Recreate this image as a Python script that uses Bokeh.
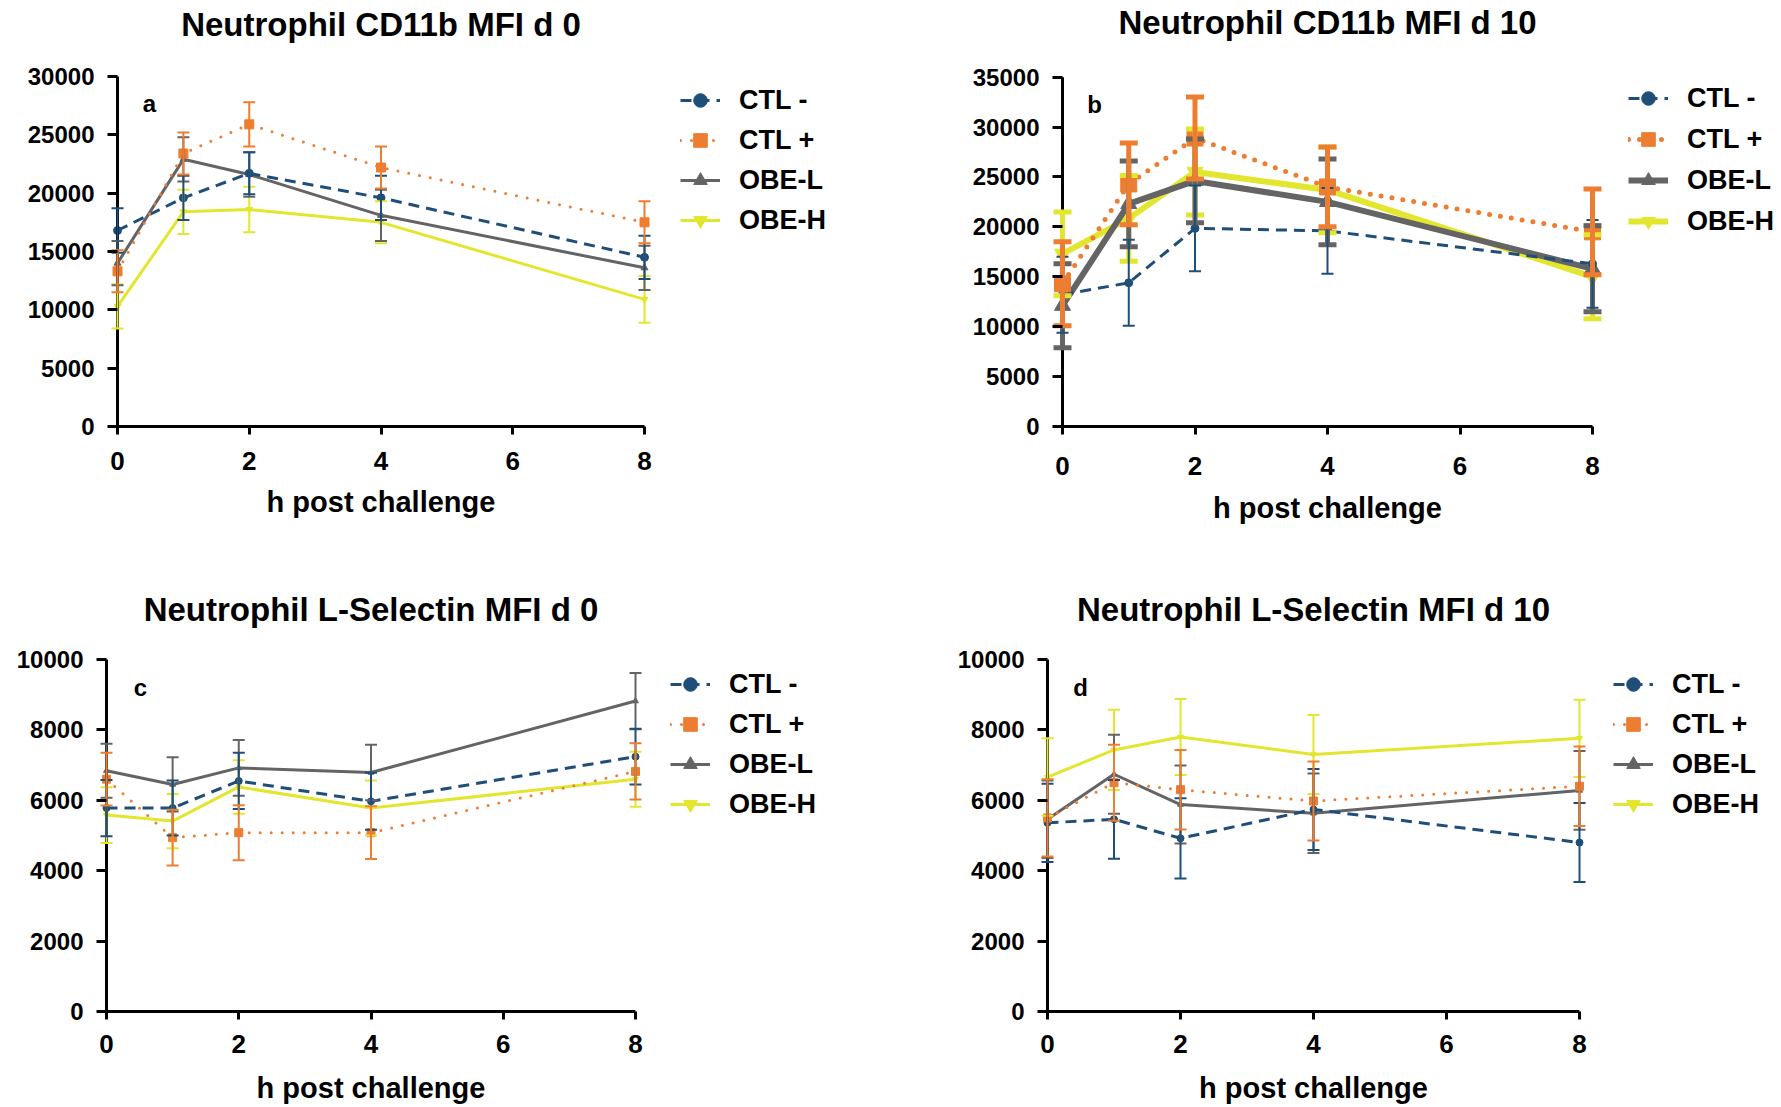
from bokeh.plotting import figure
from bokeh.models import (ColumnDataSource, Range1d, FixedTicker, Whisker, TeeHead,
                          Label, Legend, LegendItem)
from bokeh.layouts import column, row
from bokeh.embed import file_html
from bokeh.resources import INLINE

# ---------------- data ----------------
hours = [0, 1, 2, 4, 8]
series_names = ["CTL -", "CTL +", "OBE-L", "OBE-H"]

# Panel a: Neutrophil CD11b MFI d 0
a_ctl_minus = [16800, 19600, 21700, 19600, 14500]
a_ctl_minus_err = [1900, 1900, 1800, 1900, 1850]
a_ctl_plus = [13300, 23400, 25900, 22200, 17500]
a_ctl_plus_err = [1800, 1800, 1900, 1800, 1800]
a_obe_l = [14000, 22900, 21600, 18100, 13600]
a_obe_l_err = [1900, 1900, 1900, 2200, 1900]
a_obe_h = [10300, 18400, 18600, 17500, 10900]
a_obe_h_err = [1900, 1900, 1950, 1800, 2000]

# Panel b: Neutrophil CD11b MFI d 10
b_ctl_minus = [13200, 14400, 19850, 19600, 16300]
b_ctl_minus_err = [3800, 4300, 4300, 4300, 4400]
b_ctl_plus = [14300, 24300, 28900, 24000, 19500]
b_ctl_plus_err = [4200, 4100, 4100, 4000, 4300]
b_obe_l = [12100, 22300, 24600, 22500, 15800]
b_obe_l_err = [4200, 4300, 4200, 4300, 4300]
b_obe_h = [17300, 20850, 25500, 23700, 15000]
b_obe_h_err = [4200, 4300, 4300, 4300, 4200]

# Panel c: Neutrophil L-Selectin MFI d 0
c_ctl_minus = [5780, 5780, 6550, 5970, 7240]
c_ctl_minus_err = [800, 780, 800, 810, 790]
c_ctl_plus = [6600, 4940, 5080, 5080, 6820]
c_ctl_plus_err = [750, 790, 780, 750, 800]
c_obe_l = [6840, 6450, 6920, 6790, 8820]
c_obe_l_err = [770, 770, 790, 790, 800]
c_obe_h = [5580, 5410, 6380, 5780, 6600]
c_obe_h_err = [790, 770, 760, 780, 780]

# Panel d: Neutrophil L-Selectin MFI d 10
d_ctl_minus = [5360, 5460, 4920, 5740, 4800]
d_ctl_minus_err = [1110, 1120, 1140, 1150, 1120]
d_ctl_plus = [5500, 6500, 6300, 5980, 6400]
d_ctl_plus_err = [1100, 1080, 1130, 1120, 1130]
d_obe_l = [5460, 6740, 5880, 5630, 6280]
d_obe_l_err = [1100, 1120, 1110, 1130, 1120]
d_obe_h = [6660, 7430, 7800, 7300, 7760]
d_obe_h_err = [1100, 1140, 1080, 1120, 1100]

x_ticks = [0, 2, 4, 6, 8]
a_y_ticks = [0, 5000, 10000, 15000, 20000, 25000, 30000]
b_y_ticks = [0, 5000, 10000, 15000, 20000, 25000, 30000, 35000]
cd_y_ticks = [0, 2000, 4000, 6000, 8000, 10000]

titles = ["Neutrophil CD11b MFI d 0", "Neutrophil CD11b MFI d 10",
          "Neutrophil L-Selectin MFI d 0", "Neutrophil L-Selectin MFI d 10"]
letters = ["a", "b", "c", "d"]
x_label = "h post challenge"

# ---------------- styling ----------------
FONT = "Liberation Sans"
COLORS = {"CTL -": "#1F4E79", "CTL +": "#ED7D31", "OBE-L": "#646464", "OBE-H": "#E3E62E"}
DASH = {"CTL -": "11 7", "CTL +": "0 11", "OBE-L": "solid", "OBE-H": "solid"}
MARKER = {"CTL -": "circle", "CTL +": "square", "OBE-L": "triangle", "OBE-H": "inverted_triangle"}
PAD_PX = 10  # frame reaches this many px beyond x = 0 and x = 8


def make_panel(fig_h, axis_x, x8_px, y0_px, ytop_px, xmax, ymax, yticks, data, style,
               title, title_y, letter, letter_pos, tick_standoff, label_standoff,
               legend_w, legend_left, legend_top, legend_spacing=6):
    # plot figure: frame spans from just left of x=0 to just right of x=8 and from the top
    # of the figure down to the x axis, so the title and panel letter sit inside it.
    pxu = (x8_px - axis_x) / xmax
    frame_left = axis_x - PAD_PX
    fig_w = x8_px + PAD_PX
    x_start = -PAD_PX / pxu
    x_end = xmax + PAD_PX / pxu
    y_end = ymax * y0_px / (y0_px - ytop_px)
    bottom = fig_h - y0_px

    p = figure(width=fig_w, height=fig_h, output_backend="svg", toolbar_location=None,
               x_range=Range1d(x_start, x_end), y_range=Range1d(0, y_end),
               min_border_left=frame_left, min_border_right=0,
               min_border_top=0, min_border_bottom=bottom)
    p.outline_line_color = None
    p.grid.visible = False
    p.background_fill_color = "white"
    p.border_fill_color = "white"

    for ax in (p.xaxis, p.yaxis):
        ax.major_tick_line_width = 3
        ax.major_tick_line_color = "black"
        ax.minor_tick_line_color = None
        ax.minor_tick_out = 0
        ax.minor_tick_in = 0
        ax.major_label_text_font = FONT
        ax.major_label_text_font_style = "bold"
        ax.major_label_text_color = "black"
    p.xaxis.axis_line_width = 3
    p.xaxis.axis_line_color = "black"
    p.xaxis.major_tick_out = 8
    p.xaxis.major_tick_in = 0
    p.xaxis.major_label_text_font_size = "26px"
    p.xaxis.ticker = FixedTicker(ticks=x_ticks)
    p.xaxis.bounds = (0, xmax)
    p.xaxis.major_label_standoff = tick_standoff
    p.xaxis.axis_label = x_label
    p.xaxis.axis_label_text_font = FONT
    p.xaxis.axis_label_text_font_style = "bold"
    p.xaxis.axis_label_text_font_size = "29px"
    p.xaxis.axis_label_text_color = "black"
    p.xaxis.axis_label_standoff = label_standoff

    # y axis sits at the frame edge; its ticks reach in to x = 0, its line is drawn at x = 0
    p.yaxis.axis_line_color = None
    p.yaxis.major_tick_out = 0
    p.yaxis.major_tick_in = PAD_PX
    p.yaxis.major_label_text_font_size = "24px"
    p.yaxis.ticker = FixedTicker(ticks=yticks)
    p.yaxis.bounds = (0, ymax)
    p.yaxis.major_label_standoff = 13
    axis_src = ColumnDataSource(dict(base=[0], lower=[0], upper=[ymax]))
    p.add_layout(Whisker(source=axis_src, base="base", lower="lower", upper="upper",
                         dimension="height", line_color="black", line_width=3,
                         upper_head=None, lower_head=None, level="glyph"))

    # legend figure to the right of the plot; same frame height as the plot (rows align
    # frames), its ranges keep the data itself out of view so only the legend shows
    lf = figure(width=legend_w, height=fig_h, output_backend="svg", toolbar_location=None,
                x_axis_location=None, y_axis_location=None,
                x_range=Range1d(10, 11), y_range=Range1d(0, 1),
                min_border_left=0, min_border_right=0,
                min_border_top=0, min_border_bottom=bottom)
    lf.outline_line_color = None
    lf.grid.visible = False

    items = {}
    for name in ["OBE-H", "OBE-L", "CTL -", "CTL +"]:
        vals, errs = data[name]
        lw, ms, ew, cap = style[name]
        src = ColumnDataSource(dict(x=hours, y=vals,
                                    upper=[v + e for v, e in zip(vals, errs)],
                                    lower=[v - e for v, e in zip(vals, errs)]))
        col = COLORS[name]
        cap_style = "round" if name == "CTL +" else "butt"
        p.add_layout(Whisker(source=src, base="x", upper="upper", lower="lower",
                             line_color=col, line_width=ew, level="glyph",
                             upper_head=TeeHead(size=cap, line_color=col, line_width=ew),
                             lower_head=TeeHead(size=cap, line_color=col, line_width=ew)))
        p.line("x", "y", source=src, line_color=col, line_width=lw,
               line_dash=DASH[name], line_cap=cap_style)
        p.scatter("x", "y", source=src, marker=MARKER[name], size=ms,
                  fill_color=col, line_color=col)
        l1 = lf.line("x", "y", source=src, line_color=col, line_width=lw,
                     line_dash=DASH[name], line_cap=cap_style)
        l2 = lf.scatter("x", "y", source=src, marker=MARKER[name], size=ms,
                        fill_color=col, line_color=col)
        items[name] = LegendItem(label=name, renderers=[l1, l2])

    n = len(series_names)
    legend_h = n * 34 + (n - 1) * legend_spacing
    legend = Legend(items=[items[s] for s in series_names],
                    location=(legend_left, y0_px - (legend_top + legend_h)),
                    padding=0, margin=0, spacing=legend_spacing,
                    glyph_width=40, glyph_height=34, label_height=34, label_standoff=19,
                    label_text_font=FONT, label_text_font_style="bold",
                    label_text_font_size="27px", label_text_color="black",
                    background_fill_alpha=0, border_line_alpha=0)
    lf.add_layout(legend)

    frame_w = fig_w - frame_left
    p.add_layout(Label(x=frame_w / 2, y=y0_px - title_y, x_units="screen", y_units="screen",
                       text=title, text_font=FONT, text_font_style="bold",
                       text_font_size="33px", text_align="center", text_baseline="middle",
                       text_color="black"))
    p.add_layout(Label(x=letter_pos[0], y=letter_pos[1], x_units="screen", y_units="screen",
                       text=letter, text_font=FONT, text_font_style="bold",
                       text_font_size="24px", text_align="center", text_baseline="middle",
                       text_color="black"))
    return p, lf


# style: (line width, marker size, error width, cap size)
style_thin = {"CTL -": (3, 8, 2, 12), "CTL +": (3, 9, 2, 12),
              "OBE-L": (3, 7, 2, 12), "OBE-H": (3, 7, 2, 12)}
style_b = {"CTL -": (3, 8, 2, 12), "CTL +": (5, 16, 5, 18),
           "OBE-L": (6, 16, 5, 18), "OBE-H": (6, 16, 5, 18)}
style_cd = {"CTL -": (3, 7, 2, 12), "CTL +": (3, 8, 2, 12),
            "OBE-L": (3, 6, 2, 12), "OBE-H": (3, 6, 2, 12)}

pa, la = make_panel(553, 117, 644, 426, 76, 8, 30000, a_y_ticks,
                    {"CTL -": (a_ctl_minus, a_ctl_minus_err), "CTL +": (a_ctl_plus, a_ctl_plus_err),
                     "OBE-L": (a_obe_l, a_obe_l_err), "OBE-H": (a_obe_h, a_obe_h_err)},
                    style_thin, titles[0], 24, letters[0], (42, 323), 17, 13,
                    890 - 654, 26, 83)
pb, lb = make_panel(553, 172, 702, 428, 77, 8, 35000, b_y_ticks,
                    {"CTL -": (b_ctl_minus, b_ctl_minus_err), "CTL +": (b_ctl_plus, b_ctl_plus_err),
                     "OBE-L": (b_obe_l, b_obe_l_err), "OBE-H": (b_obe_h, b_obe_h_err)},
                    style_b, titles[1], 24, letters[1], (42, 322), 22, 14,
                    891 - 712, 26, 83, 7)
pc, lc = make_panel(554, 106, 635, 458, 106, 8, 10000, cd_y_ticks,
                    {"CTL -": (c_ctl_minus, c_ctl_minus_err), "CTL +": (c_ctl_plus, c_ctl_plus_err),
                     "OBE-L": (c_obe_l, c_obe_l_err), "OBE-H": (c_obe_h, c_obe_h_err)},
                    style_cd, titles[2], 56, letters[2], (44, 324), 15, 16,
                    890 - 645, 25, 114)
pd, ld = make_panel(554, 157, 689, 458, 106, 8, 10000, cd_y_ticks,
                    {"CTL -": (d_ctl_minus, d_ctl_minus_err), "CTL +": (d_ctl_plus, d_ctl_plus_err),
                     "OBE-L": (d_obe_l, d_obe_l_err), "OBE-H": (d_obe_h, d_obe_h_err)},
                    style_cd, titles[3], 56, letters[3], (43, 324), 15, 16,
                    891 - 699, 24, 114)

layout = column(row(pa, la, pb, lb), row(pc, lc, pd, ld))
open("out.html", "w").write(file_html(layout, INLINE))
